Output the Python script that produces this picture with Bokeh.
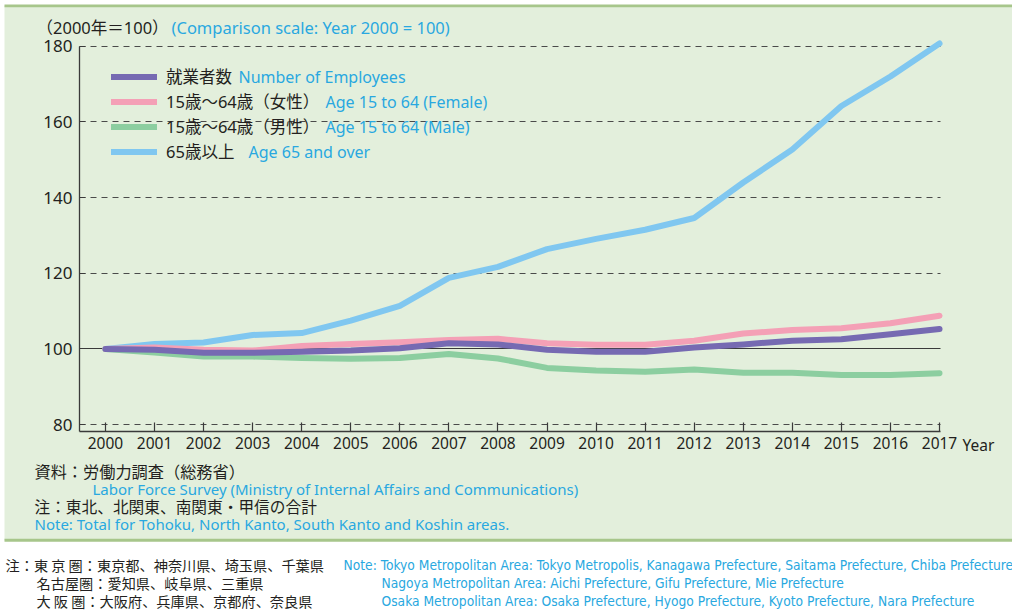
from bokeh.plotting import figure
from bokeh.models import Range1d, FixedTicker, Legend, LegendItem, Label, Grid, BoxAnnotation
from bokeh.embed import file_html
from bokeh.resources import INLINE

# ---------------- data ----------------
years = list(range(2000, 2018))
employees = [100, 99.8, 99.0, 99.0, 99.3, 99.6, 100.2, 101.5, 101.2, 99.8,
             99.3, 99.3, 100.4, 101.2, 102.2, 102.6, 103.9, 105.3]
female_15_64 = [100, 100.4, 99.8, 99.6, 100.8, 101.3, 101.8, 102.4, 102.7, 101.5,
                101.1, 101.1, 102.2, 104.1, 105.0, 105.5, 106.8, 108.8]
male_15_64 = [100, 99.1, 98.0, 98.0, 97.6, 97.4, 97.6, 98.7, 97.5, 95.0,
              94.3, 94.0, 94.6, 93.7, 93.7, 93.1, 93.1, 93.6]
age_65_over = [100, 101.3, 101.7, 103.7, 104.2, 107.5, 111.4, 118.8, 121.7, 126.4,
               129.1, 131.5, 134.6, 144.0, 152.7, 164.2, 172.0, 180.7]

series_jp = ["就業者数", "15歳〜64歳（女性）", "15歳〜64歳（男性）", "65歳以上"]
series_en = ["Number of Employees", "Age 15 to 64 (Female)", "Age 15 to 64 (Male)", "Age 65 and over"]
y_ticks = [80, 100, 120, 140, 160, 180]
dashed_ticks = [80, 120, 140, 160, 180]
baseline = [100]

title_jp = "（2000年＝100）"
title_en = "(Comparison scale: Year 2000 = 100)"
x_unit = "Year"
source_jp = "資料：労働力調査（総務省）"
source_en = "Labor Force Survey (Ministry of Internal Affairs and Communications)"
note_jp = "注：東北、北関東、南関東・甲信の合計"
note_en = "Note: Total for Tohoku, North Kanto, South Kanto and Koshin areas."
foot_jp = ["注：東 京 圏：東京都、神奈川県、埼玉県、千葉県",
           "名古屋圏：愛知県、岐阜県、三重県",
           "大 阪 圏：大阪府、兵庫県、京都府、奈良県"]
foot_en = ["Note: Tokyo Metropolitan Area: Tokyo Metropolis, Kanagawa Prefecture, Saitama Prefecture, Chiba Prefecture",
           "Nagoya Metropolitan Area: Aichi Prefecture, Gifu Prefecture, Mie Prefecture",
           "Osaka Metropolitan Area: Osaka Prefecture, Hyogo Prefecture, Kyoto Prefecture, Nara Prefecture"]

# ---------------- styles ----------------
PANEL = "#e3efdc"
EDGE = "#a7c68b"
INK = "#231f20"
CYAN = "#29a8e0"
AXIS = "#3a3a3a"
JP = "Noto Sans CJK JP"
MIX = "'Noto Sans', 'Noto Sans CJK JP'"
EN = "Noto Sans"
COND = "DejaVu Sans Condensed"
colors = {"emp": "#766ab2", "fem": "#f4a0b6", "male": "#8ccea0", "old": "#80c7f0"}

W, H = 1012, 611
# chart area in data space
XA0, XA1 = 1999.47, 2017.02   # x-axis extent
YA0, YA1 = 78.2, 180          # y-axis extent

p = figure(width=W, height=H, toolbar_location=None, output_backend="svg",
           x_range=Range1d(1997.86, 2018.488), y_range=Range1d(30.65, 192.07),
           min_border=0, background_fill_color="white", border_fill_color="white",
           outline_line_color=None)

# panel background and edges (screen units, frame = whole canvas, y from bottom)
p.add_layout(BoxAnnotation(left=4, right=W, bottom=H - 540, top=H - 5,
                           left_units="screen", right_units="screen",
                           top_units="screen", bottom_units="screen",
                           fill_color=PANEL, fill_alpha=1, line_color=None, level="image"))
for (top, bot) in ((H - 4, H - 6.8), (H - 538.3, H - 541.3)):
    p.add_layout(BoxAnnotation(left=4, right=W, bottom=bot, top=top,
                               left_units="screen", right_units="screen",
                               top_units="screen", bottom_units="screen",
                               fill_color=EDGE, fill_alpha=1, line_color=None, level="image"))

# axes inside the frame
p.xaxis.fixed_location = YA0
p.yaxis.fixed_location = XA0
p.xaxis.ticker = FixedTicker(ticks=years)
p.xaxis.bounds = (XA0, XA1)
p.yaxis.ticker = FixedTicker(ticks=y_ticks)
p.yaxis.bounds = (YA0, YA1)
for ax in (p.xaxis[0], p.yaxis[0]):
    ax.axis_line_color = AXIS
    ax.axis_line_width = 1.3
    ax.major_tick_line_color = AXIS
    ax.major_tick_line_width = 1.2
    ax.minor_tick_line_color = None
    ax.major_tick_out = 0
    ax.major_label_text_color = INK
    ax.major_label_text_font = EN
p.xaxis.major_tick_in = 9
p.xaxis.major_label_standoff = 5
p.xaxis.major_label_text_font_size = "15.5px"
p.yaxis.major_tick_in = 6
p.yaxis.major_label_standoff = 7
p.yaxis.major_label_text_font_size = "17px"

# grids
p.xgrid.visible = False
p.ygrid.ticker = FixedTicker(ticks=dashed_ticks)
p.ygrid.grid_line_color = "#4a4a4a"
p.ygrid.grid_line_dash = "6 5"
p.ygrid.grid_line_width = 1
p.ygrid.cross_bounds = (XA0, XA1)
p.add_layout(Grid(dimension=1, ticker=FixedTicker(ticks=baseline), grid_line_color=AXIS,
                  grid_line_width=1.2, cross_bounds=(XA0, XA1)))

# lines (back to front)
kw = dict(line_width=6, line_cap="round", line_join="round")
r_old = p.line(years, age_65_over, line_color=colors["old"], **kw)
r_male = p.line(years, male_15_64, line_color=colors["male"], **kw)
r_fem = p.line(years, female_15_64, line_color=colors["fem"], **kw)
r_emp = p.line(years, employees, line_color=colors["emp"], **kw)

legend = Legend(items=[LegendItem(label=series_jp[0], renderers=[r_emp]),
                       LegendItem(label=series_jp[1], renderers=[r_fem]),
                       LegendItem(label=series_jp[2], renderers=[r_male]),
                       LegendItem(label=series_jp[3], renderers=[r_old])],
                location=(111, H - 163.5), padding=0, margin=0, spacing=0,
                glyph_width=46, glyph_height=25, label_height=25, label_standoff=9,
                background_fill_alpha=0, border_line_color=None,
                label_text_font=MIX, label_text_font_size="16.5px", label_text_color=INK)
p.add_layout(legend)


def lab(txt, x_ref, y_ref, color, font, size):
    p.add_layout(Label(x=x_ref, y=H - y_ref, x_units="screen", y_units="screen", text=txt,
                       text_color=color, text_font=font, text_font_size=size,
                       text_align="left", text_baseline="middle"))


for t, xr, yr in zip(series_en, [238, 325, 325, 248], [76, 101, 126, 151]):
    lab(t, xr, yr, CYAN, EN, "16px")

lab(title_jp, 36, 27, INK, MIX, "16.5px")
lab(title_en, 171, 27, CYAN, EN, "16.5px")
lab(x_unit, 962, 444, INK, EN, "15.5px")
lab(source_jp, 34, 470, INK, JP, "16.2px")
lab(source_en, 92, 488, CYAN, EN, "15px")
lab(note_jp, 34, 506, INK, JP, "15.7px")
lab(note_en, 34, 523, CYAN, EN, "15px")

for t, xr, yr in zip(foot_jp, [5, 36, 36], [564, 582, 600]):
    lab(t, xr, yr, INK, JP, "14.2px")
for t, xr, yr in zip(foot_en, [343, 381, 381], [564, 582, 600]):
    lab(t, xr, yr, CYAN, COND, "13.7px")

open("out.html", "w").write(file_html(p, INLINE))
